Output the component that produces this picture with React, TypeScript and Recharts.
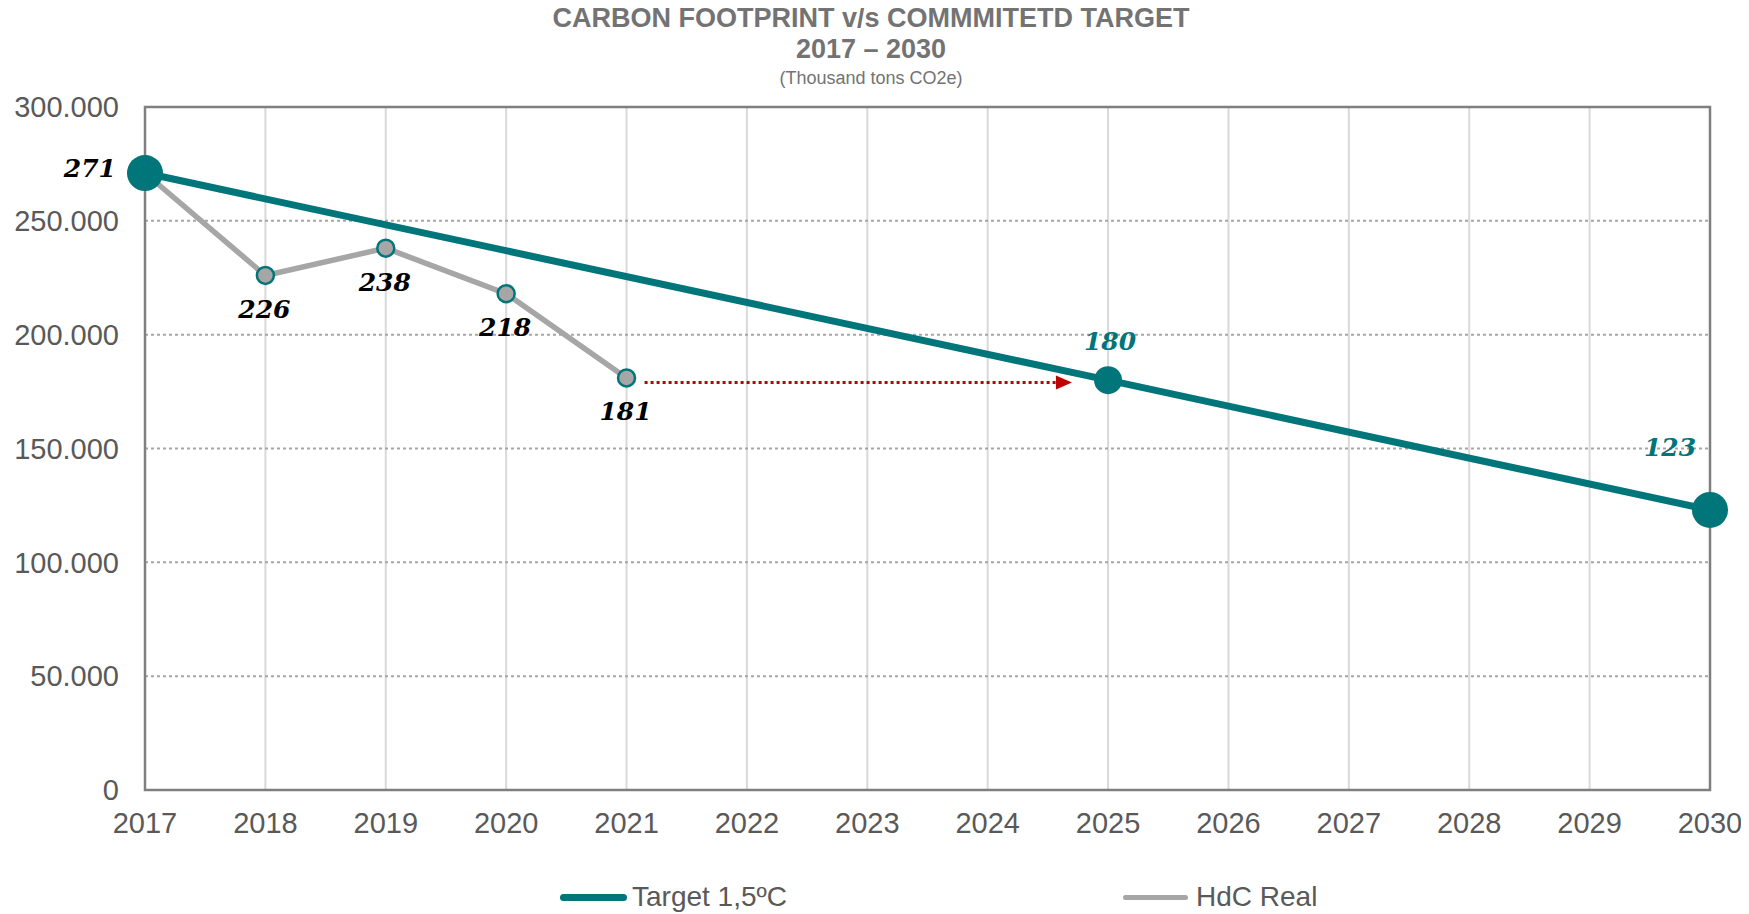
import {
  CartesianGrid,
  Line,
  LineChart,
  ReferenceArea,
  ReferenceLine,
  XAxis,
  YAxis,
  LabelList,
} from "recharts";

const years = [2017, 2018, 2019, 2020, 2021, 2022, 2023, 2024, 2025, 2026, 2027, 2028, 2029, 2030];
const targetValues = [271, null, null, null, null, null, null, null, 180, null, null, null, null, 123];
const realValues = [271, 226, 238, 218, 181, null, null, null, null, null, null, null, null, null];
const yTicks = [0, 50, 100, 150, 200, 250, 300];
const arrowFrom = 2021.15;
const arrowTo = 2024.7;
const arrowValue = 179;

const TEAL = "#00757a";
const GREY = "#a6a6a6";
const TEXT = "#595959";
const SANS = "'Liberation Sans', Arial, sans-serif";
const SERIF = "'DejaVu Serif', Georgia, serif";

const data = years.map((year, i) => ({
  year,
  target: targetValues[i],
  real: realValues[i],
}));

function TargetDot(props: any) {
  const { cx, cy, payload, index } = props;
  if (cx == null || cy == null || payload.target == null) return <g key={`td${index}`} />;
  const r = payload.year === 2025 ? 14 : 18;
  return <circle key={`td${index}`} cx={cx} cy={cy} r={r} fill={TEAL} />;
}

function RealDot(props: any) {
  const { cx, cy, payload, index } = props;
  if (cx == null || cy == null || payload.real == null || payload.year === 2017)
    return <g key={`rd${index}`} />;
  return (
    <circle key={`rd${index}`} cx={cx} cy={cy} r={8.5} fill={GREY} stroke={TEAL} strokeWidth={2.5} />
  );
}

function RealLabel(props: any) {
  const { x, y, value, index } = props;
  if (value == null || x == null) return null;
  const first = index === 0;
  return (
    <text
      x={first ? x - 29 : x - 1}
      y={first ? y - 5 : y + 34}
      textAnchor={first ? "end" : "middle"}
      dominantBaseline="central"
      fill="#000"
      fontFamily={SERIF}
      fontWeight="bold"
      fontStyle="italic"
      fontSize={25}
    >
      {value}
    </text>
  );
}

function TargetLabel(props: any) {
  const { x, y, value, index } = props;
  if (value == null || x == null || index === 0) return null;
  const last = index === years.length - 1;
  return (
    <text
      x={last ? x - 40 : x + 2}
      y={last ? y - 62 : y - 39}
      textAnchor="middle"
      dominantBaseline="central"
      fill={TEAL}
      fontFamily={SERIF}
      fontWeight="bold"
      fontStyle="italic"
      fontSize={25}
    >
      {value}
    </text>
  );
}

function Arrow(props: any) {
  const { x1, y1, x2, y2 } = props;
  if (x1 == null) return null;
  return (
    <g>
      <line x1={x1} y1={y1} x2={x2 - 14} y2={y2} stroke="#c00000" strokeWidth={3} strokeDasharray="3 3" />
      <polygon points={`${x2},${y2} ${x2 - 16},${y2 - 7} ${x2 - 16},${y2 + 7}`} fill="#c00000" />
    </g>
  );
}

const titleStyle = (top: number, size: number, bold: boolean): React.CSSProperties => ({
  position: "absolute",
  left: 863,
  top,
  transform: "translateX(-50%)",
  fontFamily: SANS,
  fontSize: size,
  lineHeight: `${size}px`,
  fontWeight: bold ? "bold" : "normal",
  color: "#737373",
  whiteSpace: "nowrap",
});

const legendText: React.CSSProperties = {
  position: "absolute",
  top: 875,
  fontFamily: SANS,
  fontSize: 28,
  lineHeight: "28px",
  color: TEXT,
  whiteSpace: "nowrap",
};

export default function App() {
  return (
    <div style={{ position: "relative", width: 1733, height: 906 }}>
      <LineChart
        width={1733}
        height={900}
        data={data}
        margin={{ top: 99, right: 31, bottom: 58, left: 0 }}
      >
        <CartesianGrid horizontal={false} stroke="#d9d9d9" strokeWidth={2} />
        <CartesianGrid vertical={false} stroke={GREY} strokeWidth={2} strokeDasharray="3 3" />
        <XAxis
          dataKey="year"
          type="number"
          domain={[2017, 2030]}
          ticks={years}
          axisLine={false}
          tickLine={false}
          tickSize={0}
          tickMargin={22}
          height={60}
          interval={0}
          tick={{ fill: TEXT, fontSize: 29, fontFamily: SANS }}
        />
        <YAxis
          domain={[0, 300]}
          ticks={yTicks}
          width={137}
          axisLine={false}
          tickLine={false}
          tickSize={0}
          tickMargin={26}
          tickFormatter={(v: number) => (v === 0 ? "0" : `${v}.000`)}
          tick={{ fill: TEXT, fontSize: 29, fontFamily: SANS }}
        />
        <ReferenceArea
          x1={2017}
          x2={2030}
          y1={0}
          y2={300}
          fill="none"
          fillOpacity={0}
          stroke="#7f7f7f"
          strokeWidth={2.5}
        />
        <ReferenceLine
          segment={[
            { x: arrowFrom, y: arrowValue },
            { x: arrowTo, y: arrowValue },
          ]}
          shape={Arrow}
        />
        <Line
          dataKey="real"
          stroke={GREY}
          strokeWidth={5.5}
          dot={RealDot}
          activeDot={false}
          isAnimationActive={false}
        >
          <LabelList dataKey="real" content={RealLabel} />
        </Line>
        <Line
          dataKey="target"
          stroke={TEAL}
          strokeWidth={7}
          connectNulls
          dot={TargetDot}
          activeDot={false}
          isAnimationActive={false}
        >
          <LabelList dataKey="target" content={TargetLabel} />
        </Line>
      </LineChart>
      <div style={titleStyle(-3, 27, true)}>CARBON FOOTPRINT v/s COMMMITETD TARGET</div>
      <div style={titleStyle(28, 27, true)}>2017 – 2030</div>
      <div style={titleStyle(61, 18, false)}>(Thousand tons CO2e)</div>
      <div style={{ position: "absolute", left: 552, top: 886, width: 67, height: 7, borderRadius: 4, background: TEAL }} />
      <div style={{ ...legendText, left: 624 }}>Target 1,5ºC</div>
      <div style={{ position: "absolute", left: 1115, top: 887, width: 65, height: 5, borderRadius: 3, background: GREY }} />
      <div style={{ ...legendText, left: 1188 }}>HdC Real</div>
    </div>
  );
}
